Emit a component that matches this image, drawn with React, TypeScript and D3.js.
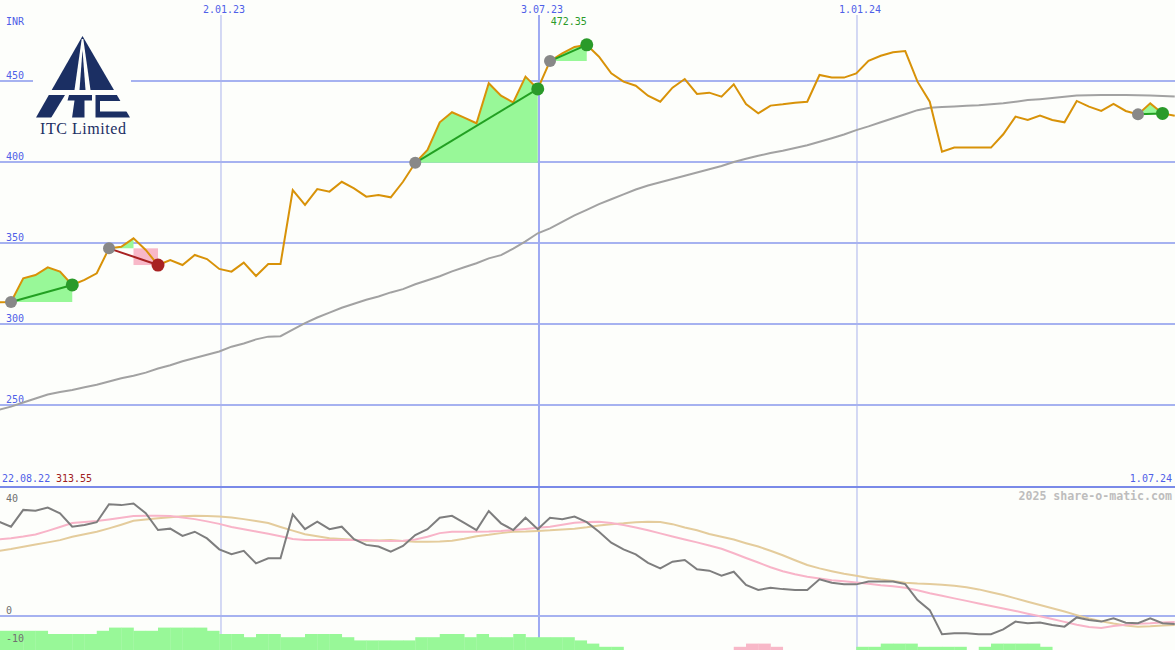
import React from "react";
import * as d3 from "d3";

// Weekly closing prices (INR)
const price = [
  313.4, 313.55, 328.2, 330.2, 335.0, 332.3, 324.1, 327.2, 331.3, 346.7,
  347.7, 352.9, 345.7, 336.4, 339.5, 336.4, 342.6, 340.1, 334.0, 332.3,
  337.9, 329.6, 337.0, 337.0, 382.7, 373.5, 383.3, 381.7, 387.8, 383.7,
  378.6, 379.6, 378.2, 387.8, 399.5, 407.4, 424.5, 430.7, 427.4, 423.9,
  448.6, 440.9, 436.8, 452.7, 445.1, 462.3, 467.1, 471.0, 472.35, 465.0,
  454.7, 449.6, 447.1, 440.9, 437.2, 445.9, 451.2, 442.0, 442.8, 440.3,
  448.0, 435.8, 430.0, 434.8, 435.6, 436.6, 437.2, 453.7, 452.1, 452.1,
  454.7, 462.5, 465.6, 467.7, 468.5, 449.6, 437.2, 406.4, 408.9, 408.9,
  408.9, 408.9, 417.1, 428.0, 425.9, 428.6, 425.9, 424.5, 437.7, 434.2,
  431.5, 435.8, 431.5, 429.4, 436.2, 430.0, 428.6,
];

// Long moving average (grey)
const movingAvg = [
  247, 249, 251.5, 254, 256.5, 258, 259.3, 261, 262.5, 264.5,
  266.5, 268, 270, 272.5, 274.5, 277, 279, 281, 283, 286,
  288, 290.5, 292.2, 292.5, 296.5, 300.5, 304, 307, 310, 312.5,
  315, 317, 319.5, 321.5, 324.5, 327, 329.5, 332.5, 335, 337.5,
  340.5, 342.5, 346.5, 351, 356, 359, 363, 367, 370.5, 374,
  377, 380, 383, 385.5, 387.5, 389.5, 391.5, 393.5, 395.5, 397.5,
  400, 402, 403.8, 405.5, 407, 408.7, 410.3, 412.5, 414.7, 417,
  419.7, 422, 424.5, 427, 429.5, 432, 433.5, 434, 434.3, 434.7,
  435, 435.6, 436.3, 437.2, 438.2, 438.8, 439.5, 440.3, 441, 441.2,
  441.4, 441.4, 441.4, 441.2, 441, 440.7, 440.4,
];

// Lower panel indicator (dark grey)
const indicator = [
  33.7, 31.9, 37.9, 37.6, 38.7, 36.7, 31.9, 32.5, 33.5, 39.9,
  39.6, 40.2, 36.7, 30.7, 31.2, 28.6, 30.1, 27.7, 23.8, 22.1,
  23.3, 18.8, 20.6, 20.6, 36.3, 31.0, 33.7, 31.0, 31.9, 27.4,
  25.4, 24.8, 23.0, 25.0, 28.9, 31.0, 35.1, 35.8, 33.3, 30.7,
  37.5, 33.1, 30.7, 35.1, 31.0, 35.1, 34.6, 35.5, 33.5, 30.1,
  26.2, 23.8, 22.0, 19.0, 17.0, 19.4, 20.0, 16.7, 16.2, 14.4,
  15.8, 11.1, 9.3, 10.1, 9.6, 9.3, 9.3, 13.1, 11.9, 11.3,
  11.3, 12.3, 12.3, 12.3, 11.4, 5.7, 2.1, -6.5, -6.2, -6.2,
  -6.5, -6.5, -4.8, -2.0, -2.6, -2.3, -3.2, -3.8, -0.5, -1.4,
  -2.0, -0.8, -2.4, -2.6, -0.8, -2.6, -2.9,
];

// Short average of indicator (pink)
const signalFast = [
  27.4, 27.8, 28.4, 29.1, 30.4, 31.8, 33.2, 33.6, 33.9, 34.5,
  35.1, 35.7, 35.8, 35.8, 35.7, 35.2, 34.6, 33.8, 32.9, 31.8,
  31.0, 30.2, 29.4, 28.5, 27.5, 27.1, 27.1, 27.1, 27.1, 27.1,
  27.1, 26.9, 26.8, 26.9, 27.3, 28.3, 29.6, 30.1, 30.1, 30.1,
  30.2, 30.4, 30.7, 31.1, 31.5, 31.9, 32.6, 33.3, 33.6, 33.7,
  33.2, 32.5, 31.6, 30.6, 29.5, 28.4, 27.3, 26.3, 25.2, 24.0,
  22.4, 20.7, 19.1, 17.4, 16.0, 14.9, 14.0, 13.4, 12.8, 12.4,
  12.0, 11.5, 11.0, 10.6, 10.1, 9.2, 8.1, 7.2, 6.3, 5.4,
  4.5, 3.6, 2.7, 1.8, 0.8, -0.1, -1.1, -2.1, -3.1, -3.9,
  -4.3, -3.6, -3.1, -2.8, -2.6, -2.3, -2.1,
];

// Long average of indicator (tan)
const signalSlow = [
  23.2, 23.9, 24.7, 25.5, 26.3, 27.1, 28.3, 29.2, 30.1, 31.3,
  32.6, 34.0, 34.5, 34.9, 35.3, 35.6, 35.8, 35.7, 35.5, 35.2,
  34.6, 33.9, 33.2, 31.8, 30.5, 29.2, 28.5, 27.8, 27.5, 27.2,
  26.9, 27.0, 27.1, 26.8, 26.5, 26.5, 26.6, 26.9, 27.6, 28.5,
  29.0, 29.6, 30.1, 30.2, 30.4, 30.6, 30.9, 31.2, 31.7, 32.3,
  32.8, 33.1, 33.5, 33.7, 33.6, 32.8, 31.6, 30.6, 29.3, 28.3,
  27.3, 26.0, 24.8, 23.3, 21.7, 19.9, 18.2, 17.0, 16.0, 15.1,
  14.4, 13.6, 13.0, 12.5, 11.9, 11.6, 11.4, 11.2, 10.8, 10.3,
  9.5, 8.5, 7.5, 6.3, 5.1, 3.9, 2.8, 1.6, 0.3, -0.9,
  -1.9, -2.7, -3.4, -3.8, -3.7, -3.4, -3.2,
];

// Weekly histogram levels (positive green, negative pink)
const histogram = [
  6, 6, 6, 6, 5, 5, 5, 5, 6, 7,
  7, 6, 6, 7, 7, 7, 7, 6, 5, 5,
  4, 5, 5, 4, 4, 5, 5, 5, 4, 3,
  3, 3, 3, 3, 4, 4, 5, 5, 4, 5,
  4, 4, 5, 4, 4, 4, 4, 3, 2, 1,
  1, 0, 0, 0, 0, 0, 0, 0, 0, 0,
  -1, -2, -2, -1, 0, 0, 0, 0, 0, 0,
  1, 1, 2, 2, 2, 1, 1, 1, 1, 0,
  1, 2, 2, 2, 2, 1, 0, 0, 0, 0,
  0, 0, 0, 0, 0, 0, 0,
];

// Trades: start / end indices into price
const tradeStarts = [1, 9, 34, 45, 93];
const tradeEnds = [6, 13, 44, 48, 95];

const priceTicks = [250, 300, 350, 400, 450];
const lowerTicks = [40, 0, -10];
const gridDates = ["2023-01-02", "2023-07-03", "2024-01-01"];
const gridLabels = ["2.01.23", "3.07.23", "1.01.24"];
const startLabel = "22.08.22";
const startValue = "313.55";
const endLabel = "1.07.24";
const peakLabel = "472.35";

const W = 1175;
const H = 650;
const MONO = "'DejaVu Sans Mono', monospace";
const BLUE_TXT = "#4f5fe8";
const GRID = "#a6b2f0";
const BG = "#fdfefb";
const NAVY = "#1b2f63";

export default function App() {
  const xi = d3.scaleLinear().domain([0, price.length - 1]).range([-1.25, 1174.75]);
  const xt = d3
    .scaleTime()
    .domain([new Date(2022, 7, 22), new Date(2024, 6, 1)])
    .range([-11.4, 1175]);
  const yP = d3.scaleLinear().domain([250, 450]).range([405, 81]);
  const yL = d3.scaleLinear().domain([0, 40]).range([616, 504]);
  const yB = d3.scaleLinear().domain([0, 7]).range([650, 627.6]);

  const lineP = d3
    .line<number>()
    .x((_, i) => xi(i))
    .y((d) => yP(d));
  const lineL = d3
    .line<number>()
    .x((_, i) => xi(i))
    .y((d) => yL(d));

  const trades = tradeStarts.map((s, k) => {
    const e = tradeEnds[k];
    const lvl = price[s];
    const win = price[e] >= lvl;
    let peak = s;
    for (let i = s; i <= e; i++) if (price[i] > price[peak]) peak = i;
    const idx = d3.range(s, win ? e + 1 : peak + 1);
    const area = d3
      .area<number>()
      .x((i) => xi(i))
      .y0(() => yP(lvl))
      .y1((i) => yP(Math.max(price[i], lvl)))(idx);
    return { s, e, lvl, win, peak, area };
  });

  let maxIdx = 0;
  price.forEach((v, i) => {
    if (v > price[maxIdx]) maxIdx = i;
  });

  // logo geometry
  const ax = 82.5, ay = 36, by = 117.5, lx = 36, rx = 130;
  const edgeX = (y: number, left: boolean) =>
    left ? ax - ((y - ay) / (by - ay)) * (ax - lx) : ax + ((y - ay) / (by - ay)) * (rx - ax);
  const tri = `M${ax},${ay} L${rx},${by} L${lx},${by} Z`;

  return (
    <svg
      width={W}
      height={H}
      style={{ position: "absolute", left: 0, top: 0, background: BG }}
      fontFamily={MONO}
    >
      <defs>
        <clipPath id="logoTri">
          <path d={tri} />
        </clipPath>
      </defs>
      <rect x={0} y={0} width={W} height={H} fill={BG} />

      {/* horizontal price grid */}
      {priceTicks.map((t) => (
        <g key={t}>
          <line x1={0} x2={W} y1={yP(t)} y2={yP(t)} stroke={GRID} strokeWidth={2} />
          <text x={6} y={yP(t) - 2.5} fontSize={10} fill={BLUE_TXT}>
            {t}
          </text>
        </g>
      ))}
      <text x={6} y={25} fontSize={10} fill={BLUE_TXT}>
        INR
      </text>

      {/* vertical date grid */}
      {gridDates.map((d, i) => {
        const x = xt(new Date(d + "T00:00:00"));
        return (
          <g key={d}>
            <line
              x1={x}
              x2={x}
              y1={15}
              y2={H}
              stroke={i === 1 ? "#9eaaf2" : "#aab4ec"}
              strokeWidth={i === 1 ? 2 : 1}
            />
            <text x={x + 3} y={12.5} fontSize={10} fill={BLUE_TXT} textAnchor="middle">
              {gridLabels[i]}
            </text>
          </g>
        );
      })}

      {/* panel separators */}
      <line x1={0} x2={W} y1={487} y2={487} stroke="#7a8ae8" strokeWidth={2} />
      <line x1={0} x2={W} y1={yL(0)} y2={yL(0)} stroke={GRID} strokeWidth={2} />

      {/* logo */}
      <g>
        <rect x={33} y={34} width={98} height={104} fill={BG} />
        <g clipPath="url(#logoTri)">
          {/* upper part: two slopes with a central road */}
          <rect x={30} y={30} width={110} height={60} fill={NAVY} />
          <path d={`M${ax - 0.8},${ay + 3} L${ax + 0.8},${ay + 3} L${ax + 8},90 L${ax - 8},90 Z`} fill={BG} />
          <path d={`M${ax},${ay + 14} L${ax + 3},90 L${ax - 3},90 Z`} fill={NAVY} />
          {/* lower part: letters I T C */}
          <rect x={30} y={90} width={110} height={30} fill={BG} />
          {/* I: continuation of left slope */}
          <path d={`M${edgeX(95, true) - 3},95 L65,95 L51,118 L${lx - 3},118 Z`} fill={NAVY} />
          {/* T */}
          <path d="M69,95 L92,95 L92,100.5 L84.5,100.5 L84.5,118 L72,118 L74.5,100.5 L67.5,100.5 Z" fill={NAVY} />
          {/* C */}
          <path
            d={`M95.5,95 L140,95 L140,118 L95.5,118 Z M100,101 L140,101 L140,111.5 L100,111.5 Z`}
            fill={NAVY}
            fillRule="evenodd"
          />
        </g>
        <text
          x={40}
          y={134}
          fontFamily="'Liberation Serif', 'Times New Roman', serif"
          fontSize={16}
          fill={NAVY}
          textLength={86}
        >
          ITC Limited
        </text>
      </g>

      {/* long moving average */}
      <path d={lineP(movingAvg) ?? ""} fill="none" stroke="#a2a2a2" strokeWidth={2} />

      {/* trade fills */}
      {trades.map((t, k) => (
        <g key={"f" + k}>
          <path d={t.area ?? ""} fill="#98f898" />
          {!t.win && (
            <rect
              x={xi(t.peak)}
              y={yP(t.lvl)}
              width={xi(t.e) - xi(t.peak)}
              height={yP(price[t.e]) - yP(t.lvl)}
              fill="#f8b8c8"
            />
          )}
        </g>
      ))}

      {/* price line */}
      <path d={lineP(price) ?? ""} fill="none" stroke="#d89208" strokeWidth={2} />

      {/* trade connectors & dots */}
      {trades.map((t, k) => (
        <g key={"t" + k}>
          <line
            x1={xi(t.s)}
            y1={yP(price[t.s])}
            x2={xi(t.e)}
            y2={yP(price[t.e])}
            stroke={t.win ? "#22a022" : "#a82222"}
            strokeWidth={2}
          />
          <circle cx={xi(t.s)} cy={yP(price[t.s])} r={6} fill="#888888" />
          <circle cx={xi(t.e)} cy={yP(price[t.e])} r={6.5} fill={t.win ? "#2a9a2a" : "#a82222"} />
        </g>
      ))}

      <text x={xi(maxIdx)} y={25} fontSize={10} fill="#2a9a2a" textAnchor="end">
        {peakLabel}
      </text>

      {/* bottom texts */}
      <text x={2} y={482} fontSize={10} fill={BLUE_TXT}>
        {startLabel}
      </text>
      <text x={56} y={482} fontSize={10} fill="#a02020">
        {startValue}
      </text>
      <text x={1172} y={482} fontSize={10} fill={BLUE_TXT} textAnchor="end">
        {endLabel}
      </text>
      <text x={1172} y={500} fontSize={11.6} fill="#bdbdbd" fontWeight="bold" textAnchor="end">
        2025 share-o-matic.com
      </text>

      {/* histogram */}
      {histogram.map((v, i) =>
        v === 0 ? null : (
          <rect
            key={"h" + i}
            x={xi(i)}
            y={yB(Math.abs(v))}
            width={xi(i + 1) - xi(i) + 0.3}
            height={yB(0) - yB(Math.abs(v))}
            fill={v > 0 ? "#98f898" : "#f8b8c8"}
          />
        )
      )}

      {/* lower panel labels */}
      {lowerTicks.map((t) => (
        <text key={t} x={6} y={yL(t) - 2.5} fontSize={10} fill="#707070">
          {t}
        </text>
      ))}

      {/* lower lines */}
      <path d={lineL(signalSlow) ?? ""} fill="none" stroke="#e4cc9c" strokeWidth={2} />
      <path d={lineL(signalFast) ?? ""} fill="none" stroke="#f8b4c8" strokeWidth={2} />
      <path d={lineL(indicator) ?? ""} fill="none" stroke="#7e7e7e" strokeWidth={2} />
    </svg>
  );
}
